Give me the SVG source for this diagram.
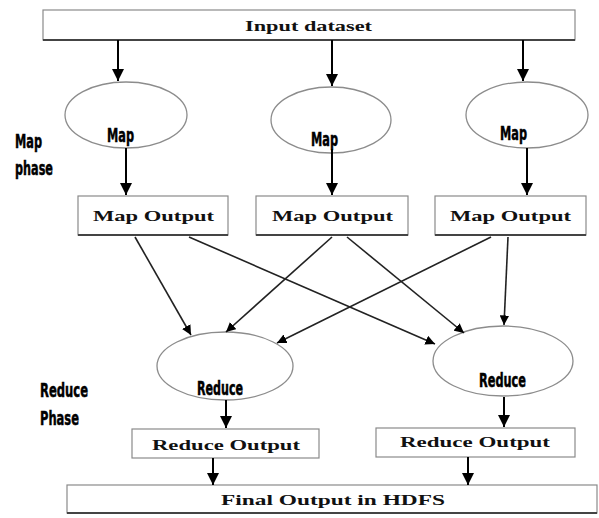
<svg xmlns="http://www.w3.org/2000/svg" width="599" height="518" viewBox="0 0 599 518">
<style>
.box{fill:#fff;stroke:#8a8a8a;stroke-width:1.2}
.shadow{stroke:#444;stroke-width:2;fill:none}
.ell{fill:#fff;stroke:#8c8c8c;stroke-width:1.3}
.st{font-family:"Liberation Serif","Times New Roman",serif;font-weight:bold;font-size:15px;fill:#111;text-anchor:start}
.cd{font-family:"DejaVu Sans Condensed","DejaVu Sans",sans-serif;font-weight:bold;font-size:20px;fill:#000;stroke:#000;stroke-width:0.5}
.ln{stroke:#000;stroke-width:2;fill:none;marker-end:url(#ah)}
.ln2{stroke:#222;stroke-width:1.6;fill:none;marker-end:url(#ah)}
</style>
<defs>
<marker id="ah" viewBox="0 0 10 10" refX="10" refY="5" markerWidth="6" markerHeight="6" orient="auto" markerUnits="strokeWidth">
<path d="M0,0 L10,5 L0,10 Z" fill="#000"/>
</marker>
</defs>
<rect width="599" height="518" fill="#fff"/>

<g id="input">
<rect class="box" x="43" y="10" width="532" height="30"/>
<line class="shadow" x1="43" y1="40" x2="575" y2="40"/>
<text class="st" x="245" y="31" textLength="127" lengthAdjust="spacingAndGlyphs">Input dataset</text>
</g>

<g id="labels">
<text class="cd" x="15" y="148" textLength="27" lengthAdjust="spacingAndGlyphs">Map</text>
<text class="cd" x="15" y="175" textLength="38" lengthAdjust="spacingAndGlyphs">phase</text>
<text class="cd" x="40" y="397" textLength="48" lengthAdjust="spacingAndGlyphs">Reduce</text>
<text class="cd" x="40" y="425" textLength="39" lengthAdjust="spacingAndGlyphs">Phase</text>
</g>

<g id="map1">
<ellipse class="ell" cx="126" cy="115" rx="61" ry="33"/>
<text class="cd" x="107" y="142" textLength="27" lengthAdjust="spacingAndGlyphs">Map</text>
</g>
<g id="map2">
<ellipse class="ell" cx="331" cy="120" rx="60" ry="33"/>
<text class="cd" x="311" y="146" textLength="27" lengthAdjust="spacingAndGlyphs">Map</text>
</g>
<g id="map3">
<ellipse class="ell" cx="527" cy="115" rx="61" ry="33"/>
<text class="cd" x="500" y="140" textLength="27" lengthAdjust="spacingAndGlyphs">Map</text>
</g>

<g id="mapout1">
<rect class="box" x="78" y="196" width="150" height="39"/>
<line class="shadow" x1="78" y1="235" x2="228" y2="235"/>
<text class="st" x="93" y="221" textLength="121" lengthAdjust="spacingAndGlyphs">Map Output</text>
</g>
<g id="mapout2">
<rect class="box" x="256" y="196" width="152" height="39"/>
<line class="shadow" x1="256" y1="235" x2="408" y2="235"/>
<text class="st" x="272" y="221" textLength="121" lengthAdjust="spacingAndGlyphs">Map Output</text>
</g>
<g id="mapout3">
<rect class="box" x="435" y="196" width="151" height="39"/>
<line class="shadow" x1="435" y1="235" x2="586" y2="235"/>
<text class="st" x="450" y="221" textLength="121" lengthAdjust="spacingAndGlyphs">Map Output</text>
</g>

<g id="reduce1">
<ellipse class="ell" cx="225" cy="366" rx="68" ry="34"/>
<text class="cd" x="197" y="395" textLength="46" lengthAdjust="spacingAndGlyphs">Reduce</text>
</g>
<g id="reduce2">
<ellipse class="ell" cx="503" cy="361" rx="70" ry="35"/>
<text class="cd" x="479" y="387" textLength="47" lengthAdjust="spacingAndGlyphs">Reduce</text>
</g>

<g id="redout1">
<rect class="box" x="132" y="429" width="187" height="29"/>
<text class="st" x="152" y="450" textLength="148" lengthAdjust="spacingAndGlyphs">Reduce Output</text>
</g>
<g id="redout2">
<rect class="box" x="376" y="428" width="199" height="29"/>
<text class="st" x="400" y="447" textLength="150" lengthAdjust="spacingAndGlyphs">Reduce Output</text>
</g>

<g id="final">
<rect class="box" x="67" y="485" width="530" height="28"/>
<line class="shadow" x1="67" y1="513" x2="597" y2="513"/>
<text class="st" x="221" y="505" textLength="224" lengthAdjust="spacingAndGlyphs">Final Output in HDFS</text>
</g>

<g id="connectors">
<line class="ln" x1="118" y1="40" x2="118" y2="81"/>
<line class="ln" x1="332" y1="40" x2="332" y2="86"/>
<line class="ln" x1="523" y1="40" x2="523" y2="81"/>
<line class="ln" x1="126" y1="148" x2="126" y2="195"/>
<line class="ln" x1="332" y1="149" x2="332" y2="195"/>
<line class="ln" x1="527" y1="148" x2="527" y2="195"/>
<line class="ln2" x1="135" y1="237" x2="191" y2="335"/>
<line class="ln2" x1="189" y1="237" x2="435" y2="344"/>
<line class="ln2" x1="332" y1="237" x2="226" y2="332"/>
<line class="ln2" x1="347" y1="237" x2="464" y2="333"/>
<line class="ln2" x1="491" y1="237" x2="277" y2="343"/>
<line class="ln2" x1="508" y1="237" x2="504" y2="325"/>
<line class="ln" x1="226" y1="400" x2="226" y2="428"/>
<line class="ln" x1="504" y1="397" x2="504" y2="427"/>
<line class="ln" x1="213" y1="458" x2="213" y2="485"/>
<line class="ln" x1="468" y1="457" x2="468" y2="485"/>
</g>
</svg>
